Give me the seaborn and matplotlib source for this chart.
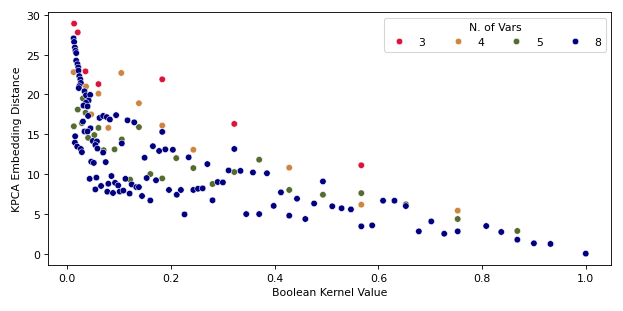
import numpy as np
import pandas as pd
import matplotlib
matplotlib.use("Agg")
import matplotlib.pyplot as plt
import seaborn as sns

# values, one pair of lists per number of variables
kernel_3 = [0.013, 0.020, 0.035, 0.060, 0.183, 0.322, 0.567]
dist_3 = [28.9, 27.8, 22.9, 21.3, 21.9, 16.3, 11.1]

kernel_4 = [0.012, 0.015, 0.104, 0.060, 0.138, 0.036, 0.046, 0.079, 0.183,
            0.243, 0.428, 0.567, 0.753]
dist_4 = [22.8, 25.8, 22.7, 20.1, 18.9, 21.0, 17.5, 15.8, 16.1,
          13.05, 10.8, 6.15, 5.4]

kernel_5 = [0.030, 0.020, 0.035, 0.0125, 0.028, 0.060, 0.052, 0.040, 0.070,
            0.091, 0.105, 0.138, 0.210, 0.121, 0.160, 0.183, 0.243, 0.280,
            0.322, 0.370, 0.428, 0.493, 0.567, 0.653, 0.753, 0.868]
dist_5 = [19.5, 18.1, 17.7, 16.0, 16.4, 15.8, 14.9, 14.55, 13.0,
          13.1, 14.35, 15.9, 12.0, 9.3, 10.0, 9.45, 10.75, 8.75,
          10.25, 11.8, 8.0, 7.4, 7.6, 6.2, 4.35, 2.85]

kernel_8 = [
    0.012, 0.013, 0.0145, 0.0156, 0.017, 0.017, 0.0195, 0.021, 0.0214, 0.023,
    0.025, 0.026, 0.023, 0.022, 0.033, 0.036, 0.044, 0.041, 0.036, 0.031,
    0.039, 0.040, 0.030,
    0.062, 0.069, 0.076, 0.082, 0.094, 0.116, 0.129, 0.0446, 0.033, 0.039,
    0.183, 0.015, 0.0145, 0.019, 0.026, 0.028, 0.049, 0.057, 0.054, 0.058,
    0.069, 0.105, 0.165, 0.177, 0.189, 0.2035, 0.234, 0.149, 0.046, 0.051,
    0.074,
    0.043, 0.056, 0.054, 0.065, 0.077, 0.079, 0.085, 0.088, 0.092, 0.098,
    0.101, 0.108, 0.112, 0.120, 0.124, 0.133, 0.138, 0.144, 0.153, 0.160,
    0.171, 0.196, 0.211, 0.219, 0.226, 0.243, 0.252, 0.261, 0.270, 0.280,
    0.290, 0.300, 0.311, 0.322, 0.334, 0.345, 0.358, 0.370, 0.385, 0.398,
    0.412, 0.428, 0.443, 0.459, 0.476, 0.493, 0.511, 0.529, 0.547, 0.567,
    0.588, 0.609, 0.631, 0.653, 0.678, 0.702, 0.727, 0.753, 0.808, 0.837,
    0.868, 0.900, 0.932, 1.0,
]
dist_8 = [
    27.05, 26.6, 25.9, 25.5, 25.2, 24.25, 23.8, 23.4, 23.0, 22.3,
    21.9, 21.45, 21.05, 20.8, 20.4, 19.9, 19.95, 19.25, 18.95, 18.6,
    18.5, 17.3, 16.6,
    17.05, 17.3, 17.15, 16.85, 17.4, 16.75, 16.5, 15.75, 15.35, 15.35,
    15.3, 14.75, 13.95, 13.45, 13.15, 12.75, 14.15, 14.1, 13.65, 13.2,
    12.7, 13.85, 13.5, 12.9, 13.1, 13.05, 12.1, 12.05, 11.55, 11.4,
    11.5,
    9.4, 9.55, 8.07, 8.5, 7.78, 8.78, 9.75, 7.62, 8.9, 8.57,
    7.8, 7.92, 9.4, 7.55, 8.7, 8.36, 8.36, 7.24, 9.5, 6.68,
    9.22, 8.0, 7.4, 8.0, 4.93, 8.0, 8.15, 8.2, 11.25, 6.7,
    9.0, 8.95, 10.45, 13.15, 10.4, 4.97, 10.2, 4.97, 10.1, 6.0,
    7.7, 4.77, 6.9, 4.35, 6.3, 9.07, 5.95, 5.7, 5.56, 3.43,
    3.55, 6.65, 6.65, 5.98, 2.8, 4.05, 2.5, 2.8, 3.47, 2.72,
    1.75, 1.3, 1.22, 0.0,
]

n_vars = [3, 4, 5, 8]
colors = ["crimson", "peru", "darkolivegreen", "navy"]

frames = []
for n, xs, ys in zip(n_vars, [kernel_3, kernel_4, kernel_5, kernel_8],
                     [dist_3, dist_4, dist_5, dist_8]):
    frames.append(pd.DataFrame({"kernel": xs, "distance": ys, "n_vars": n}))
df = pd.concat(frames, ignore_index=True)

# drawn at 8x4 inches and saved at a lower dpi to land on 623x312
fig, ax = plt.subplots(figsize=(8, 4.005), dpi=77.9)
sns.scatterplot(
    data=df,
    x="kernel",
    y="distance",
    hue="n_vars",
    hue_order=n_vars,
    palette=dict(zip(n_vars, colors)),
    ax=ax,
)
ax.set_xlabel("Boolean Kernel Value")
ax.set_ylabel("KPCA Embedding Distance")
ax.legend(title="N. of Vars", ncol=4, loc="upper right")
fig.subplots_adjust(left=0.077, right=0.981, bottom=0.147, top=0.958)
fig.savefig("out.png", dpi=77.9)
plt.close(fig)
